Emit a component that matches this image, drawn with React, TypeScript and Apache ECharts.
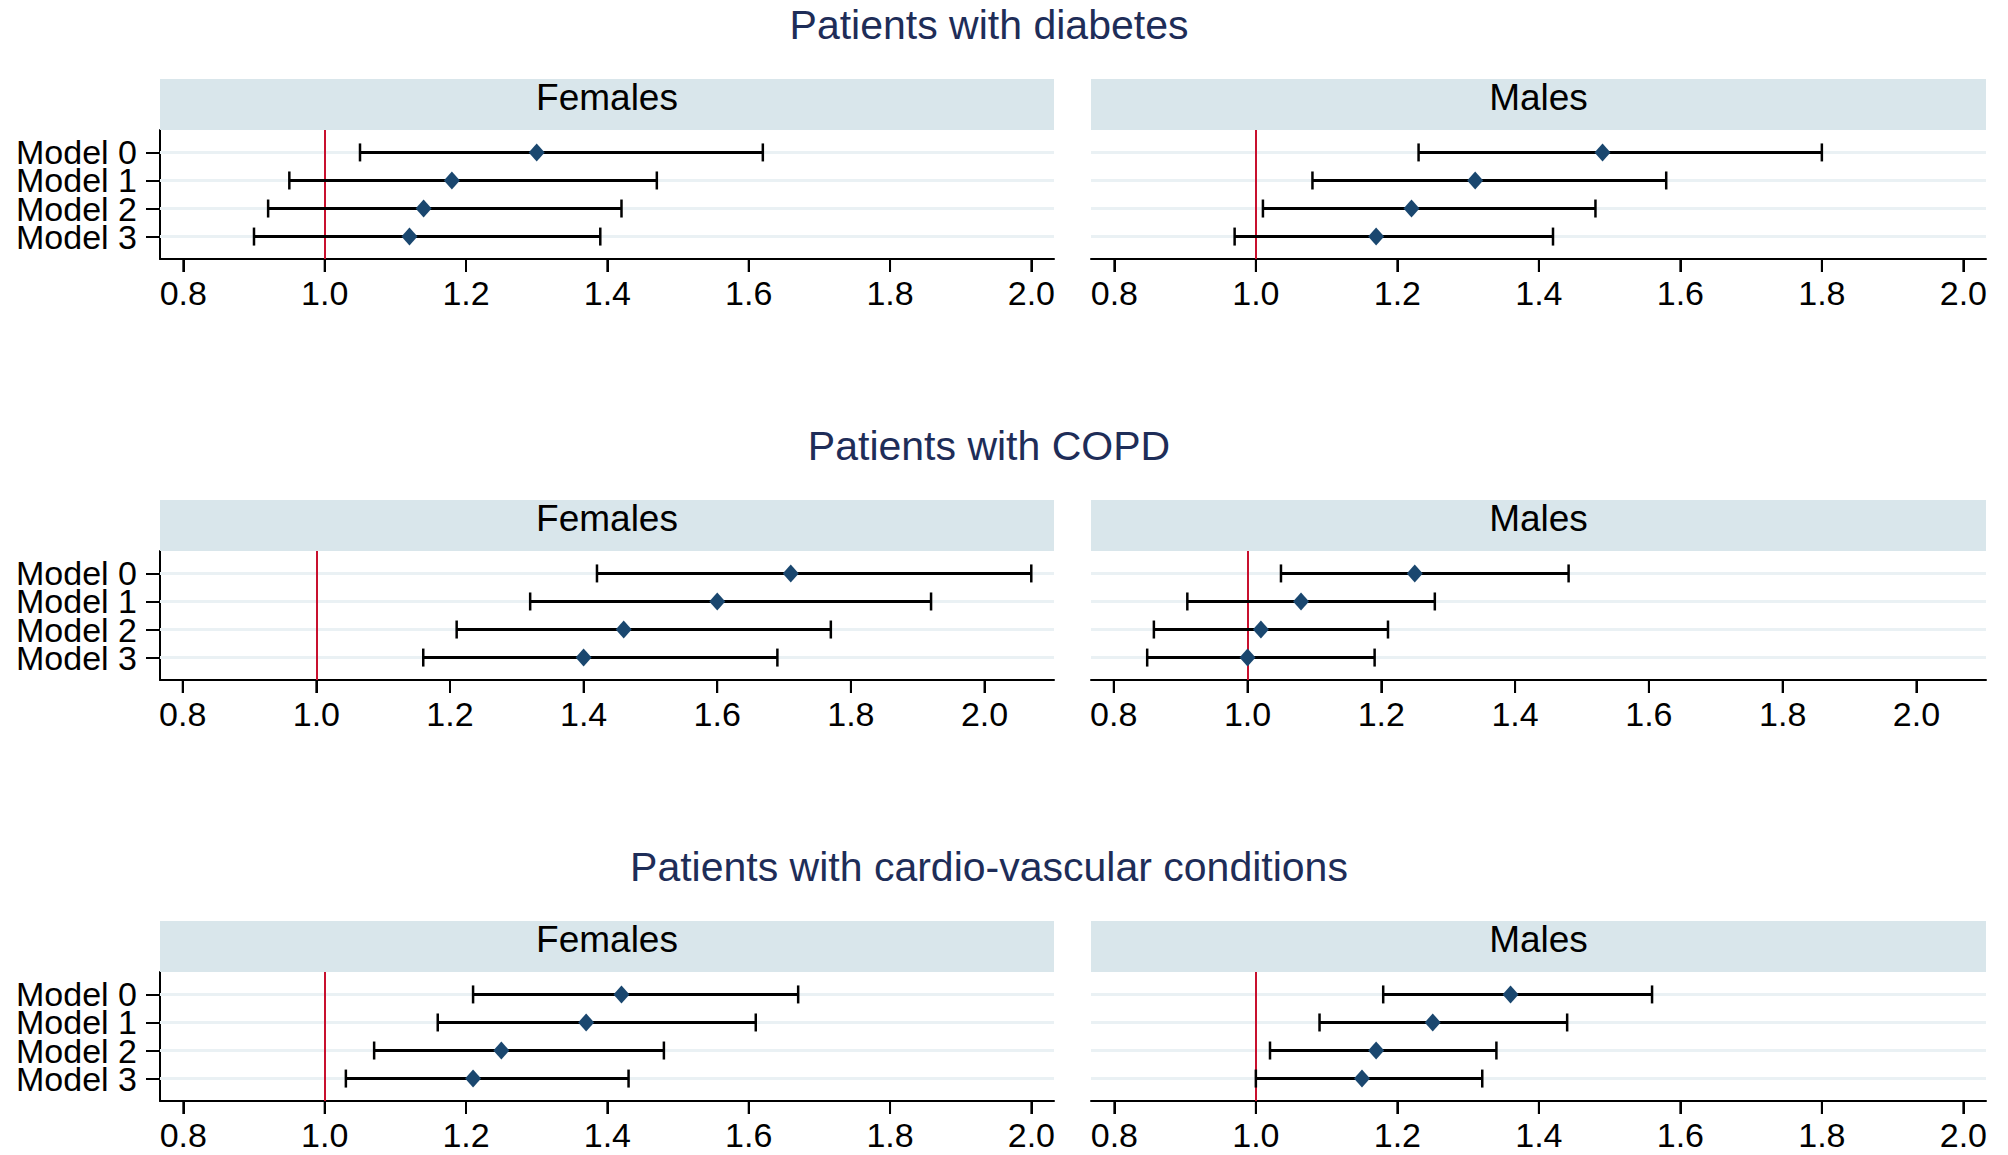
import React, { useEffect, useRef } from 'react';
import * as echarts from 'echarts';

// ---------- data ----------
const sectionTitles = [
  'Patients with diabetes',
  'Patients with COPD',
  'Patients with cardio-vascular conditions',
];
const panelLabels = ['Females', 'Males'];
const models = ['Model 0', 'Model 1', 'Model 2', 'Model 3'];
const xTicks = [0.8, 1.0, 1.2, 1.4, 1.6, 1.8, 2.0];
const refValue = 1.0;

// diabetes
const diabFemEst = [1.30, 1.18, 1.14, 1.12];
const diabFemLo = [1.05, 0.95, 0.92, 0.90];
const diabFemHi = [1.62, 1.47, 1.42, 1.39];
const diabMalEst = [1.49, 1.31, 1.22, 1.17];
const diabMalLo = [1.23, 1.08, 1.01, 0.97];
const diabMalHi = [1.80, 1.58, 1.48, 1.42];
// COPD
const copdFemEst = [1.71, 1.60, 1.46, 1.40];
const copdFemLo = [1.42, 1.32, 1.21, 1.16];
const copdFemHi = [2.07, 1.92, 1.77, 1.69];
const copdMalEst = [1.25, 1.08, 1.02, 1.00];
const copdMalLo = [1.05, 0.91, 0.86, 0.85];
const copdMalHi = [1.48, 1.28, 1.21, 1.19];
// cardio-vascular
const cvFemEst = [1.42, 1.37, 1.25, 1.21];
const cvFemLo = [1.21, 1.16, 1.07, 1.03];
const cvFemHi = [1.67, 1.61, 1.48, 1.43];
const cvMalEst = [1.36, 1.25, 1.17, 1.15];
const cvMalLo = [1.18, 1.09, 1.02, 1.00];
const cvMalHi = [1.56, 1.44, 1.34, 1.32];

// axis ranges per section
const xMins = [0.767, 0.766, 0.767];
const xMaxs = [2.032, 2.104, 2.032];
const yMin = -0.8;
const yMax = 3.8;

const panels = [
  [
    { est: diabFemEst, lo: diabFemLo, hi: diabFemHi },
    { est: diabMalEst, lo: diabMalLo, hi: diabMalHi },
  ],
  [
    { est: copdFemEst, lo: copdFemLo, hi: copdFemHi },
    { est: copdMalEst, lo: copdMalLo, hi: copdMalHi },
  ],
  [
    { est: cvFemEst, lo: cvFemLo, hi: cvFemHi },
    { est: cvMalEst, lo: cvMalLo, hi: cvMalHi },
  ],
];

// ---------- layout / style ----------
const W = 2008;
const H = 1155;
const FONT = '"Liberation Sans", Arial, Helvetica, sans-serif';
const SECTION_DY = 421;
const PANEL_LEFT = [160, 1091];
const PANEL_WIDTH = [894, 895];
const BAND_TOP = 79;
const BAND_H = 51;
const PLOT_TOP = 130;
const PLOT_H = 129;
const TITLE_Y = 25;
const TITLE_X = 989;
const X_TICK_LEN = 13;

const C_TITLE = '#1e2d58';
const C_BAND = '#d9e6eb';
const C_ROW = '#eaf1f4';
const C_REF = '#c8102e';
const C_MARK = '#1a476f';

function buildOption() {
  const grid: any[] = [];
  const xAxis: any[] = [];
  const yAxis: any[] = [];
  const series: any[] = [];
  const graphic: any[] = [];

  const yLabelBase = {
    color: '#000',
    fontSize: 34,
    lineHeight: 26,
    fontFamily: FONT,
    margin: 23,
    showMinLabel: true,
    showMaxLabel: true,
    formatter: (v: number) => models[Math.round(v)] ?? '',
  };

  sectionTitles.forEach((t, s) => {
    const dy = s * SECTION_DY;
    graphic.push({
      type: 'text',
      x: TITLE_X,
      y: TITLE_Y + dy,
      z: 10,
      style: {
        text: t,
        fill: C_TITLE,
        fontSize: 41,
        fontFamily: FONT,
        align: 'center',
        verticalAlign: 'middle',
      },
    });
    panelLabels.forEach((lab, p) => {
      const g = s * 2 + p;
      graphic.push({
        type: 'rect',
        z: 1,
        shape: { x: PANEL_LEFT[p], y: BAND_TOP + dy, width: PANEL_WIDTH[p], height: BAND_H },
        style: { fill: C_BAND },
      });
      graphic.push({
        type: 'text',
        z: 10,
        x: PANEL_LEFT[p] + PANEL_WIDTH[p] / 2,
        y: 97 + dy,
        style: {
          text: lab,
          fill: '#000',
          fontSize: 37,
          fontFamily: FONT,
          align: 'center',
          verticalAlign: 'middle',
        },
      });
      grid.push({
        left: PANEL_LEFT[p],
        top: PLOT_TOP + dy,
        width: PANEL_WIDTH[p],
        height: PLOT_H,
        containLabel: false,
      });
      xAxis.push({
        type: 'value',
        gridIndex: g,
        position: 'bottom',
        min: xMins[s],
        max: xMaxs[s],
        axisLine: { show: true, onZero: false, lineStyle: { color: '#000', width: 2 } },
        axisTick: {
          show: true,
          inside: false,
          length: X_TICK_LEN,
          customValues: xTicks,
          lineStyle: { color: '#000', width: 2 },
        },
        axisLabel: {
          show: true,
          customValues: xTicks,
          showMinLabel: true,
          showMaxLabel: true,
          formatter: (v: number) => v.toFixed(1),
          color: '#000',
          fontSize: 34,
          fontFamily: FONT,
          margin: 17,
        },
        splitLine: { show: false },
      });

      // main y axis (line, ticks, labels for even rows)
      const yMainIndex = yAxis.length;
      yAxis.push({
        type: 'value',
        gridIndex: g,
        position: 'left',
        min: yMin,
        max: yMax,
        inverse: true,
        axisLine: { show: p === 0, onZero: false, lineStyle: { color: '#000', width: 2 } },
        axisTick: {
          show: p === 0,
          inside: false,
          length: 14,
          customValues: models.map((_, i) => i),
          lineStyle: { color: '#000', width: 2 },
        },
        axisLabel: {
          ...yLabelBase,
          show: p === 0,
          customValues: models.map((_, i) => i).filter((i) => i % 2 === 0),
        },
        splitLine: { show: false },
      });
      // companion y axis (labels for odd rows)
      if (p === 0) {
        yAxis.push({
          type: 'value',
          gridIndex: g,
          position: 'left',
          offset: 0,
          min: yMin,
          max: yMax,
          inverse: true,
          axisLine: { show: false },
          axisTick: { show: false },
          axisLabel: {
            ...yLabelBase,
            show: true,
            customValues: models.map((_, i) => i).filter((i) => i % 2 === 1),
          },
          splitLine: { show: false },
        });
      }

      const d = panels[s][p];
      // row guide lines
      series.push({
        type: 'line',
        xAxisIndex: g,
        yAxisIndex: yMainIndex,
        data: [],
        z: 1,
        silent: true,
        markLine: {
          z: 1,
          silent: true,
          symbol: 'none',
          label: { show: false },
          emphasis: { disabled: true },
          lineStyle: { color: C_ROW, width: 3, type: 'solid' },
          data: models.map((_, i) => ({ yAxis: i })),
        },
      });
      // reference line
      series.push({
        type: 'line',
        xAxisIndex: g,
        yAxisIndex: yMainIndex,
        data: [],
        z: 2,
        silent: true,
        markLine: {
          z: 2,
          silent: true,
          symbol: 'none',
          label: { show: false },
          emphasis: { disabled: true },
          lineStyle: { color: C_REF, width: 2, type: 'solid' },
          data: [{ xAxis: refValue }],
        },
      });
      // x-axis tick marks at the labelled values (drawn from the axis bottom edge)
      series.push({
        type: 'custom',
        xAxisIndex: g,
        yAxisIndex: yMainIndex,
        z: 6,
        silent: true,
        clip: false,
        encode: { x: 0, y: 1 },
        data: xTicks.map((v) => [v, yMax]),
        renderItem: (params: any, api: any) => {
          const pt = api.coord([api.value(0), api.value(1)]);
          return {
            type: 'group',
            children: [
              {
                type: 'rect',
                shape: { x: pt[0] - 1, y: pt[1], width: 2, height: X_TICK_LEN },
                style: { fill: '#000' },
              },
            ],
          };
        },
      });
      // CI bars
      series.push({
        type: 'custom',
        xAxisIndex: g,
        yAxisIndex: yMainIndex,
        z: 3,
        silent: true,
        encode: { x: [1, 2], y: 0 },
        data: models.map((_, i) => [i, d.lo[i], d.hi[i]]),
        renderItem: (params: any, api: any) => {
          const row = api.value(0);
          const a = api.coord([api.value(1), row]);
          const b = api.coord([api.value(2), row]);
          const h = 9;
          return {
            type: 'group',
            children: [
              { type: 'line', shape: { x1: a[0], y1: a[1], x2: b[0], y2: b[1] }, style: { stroke: '#000', lineWidth: 3 } },
              { type: 'line', shape: { x1: a[0], y1: a[1] - h, x2: a[0], y2: a[1] + h }, style: { stroke: '#000', lineWidth: 2.5 } },
              { type: 'line', shape: { x1: b[0], y1: b[1] - h, x2: b[0], y2: b[1] + h }, style: { stroke: '#000', lineWidth: 2.5 } },
            ],
          };
        },
      });
      // point estimates
      series.push({
        type: 'scatter',
        xAxisIndex: g,
        yAxisIndex: yMainIndex,
        z: 4,
        silent: true,
        symbol: 'diamond',
        symbolSize: [16, 18],
        itemStyle: { color: C_MARK, opacity: 1 },
        data: models.map((_, i) => [d.est[i], i]),
      });
    });
  });

  return {
    animation: false,
    backgroundColor: '#ffffff',
    textStyle: { fontFamily: FONT },
    grid,
    xAxis,
    yAxis,
    series,
    graphic: { elements: graphic },
  };
}

export default function App() {
  const ref = useRef<HTMLDivElement>(null);
  useEffect(() => {
    if (!ref.current) return;
    const chart = echarts.init(ref.current, null, { renderer: 'svg', width: W, height: H });
    chart.setOption(buildOption() as any);
    return () => {
      chart.dispose();
    };
  }, []);
  return (
    <div
      ref={ref}
      style={{ position: 'absolute', left: 0, top: 0, width: W, height: H, background: '#fff' }}
    />
  );
}
